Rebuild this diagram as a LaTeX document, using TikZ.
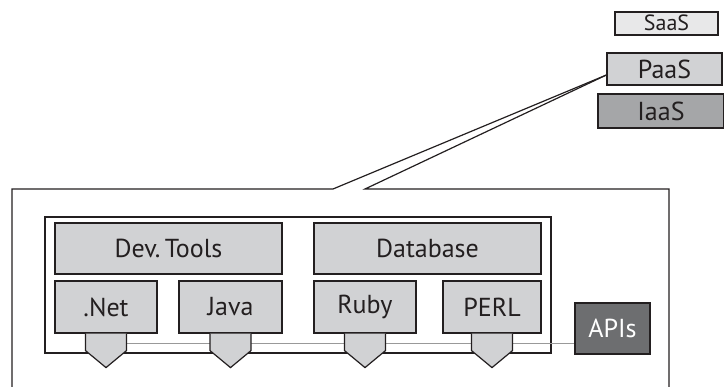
\documentclass[tikz,border=0pt]{standalone}
\usepackage{fontspec}
\setmainfont{PT Sans}
\usepackage{xcolor}
\definecolor{boxgray}{HTML}{D1D2D4}
\definecolor{saasgray}{HTML}{E8E8E9}
\definecolor{iaasgray}{HTML}{A5A6A8}
\definecolor{apigray}{HTML}{6D6E70}
\definecolor{ink}{HTML}{231F20}

\begin{document}
\begin{tikzpicture}[x=1pt,y=-1pt,
  every node/.style={font=\fontsize{26}{30}\selectfont, text=ink},
  tile/.style={draw=ink, line width=1.2pt, fill=boxgray, inner sep=0pt},
  plug/.style={draw=ink, line width=1.2pt, fill=boxgray},
  bus/.style={draw=gray!80, line width=0.8pt},
  frame/.style={draw=ink, line width=1.2pt}]
\useasboundingbox (0,0) rectangle (724,387);
% layers
\node[tile, fill=saasgray, minimum width=103pt, minimum height=23pt,
  font=\fontsize{22}{24}\selectfont, text height=15pt, text depth=0pt] (saas) at (666.5,23.5) {SaaS};
\node[tile, minimum width=115pt, minimum height=32pt] (paas) at (664.5,69) {PaaS};
\node[tile, fill=iaasgray, minimum width=126pt, minimum height=34pt] (iaas) at (661,111) {IaaS};
\coordinate (tip) at ([yshift=-6pt]paas.west);
% platform frame
\coordinate (gapl) at (333,189);
\coordinate (gapr) at (365,189);
\draw[frame] (tip) -- (gapl) -- (12,189) -- (12,387);
\draw[frame] (tip) -- (gapr) -- (669,189) -- (669,387);
\node[draw=ink, line width=1.2pt, minimum width=506pt, minimum height=136pt, inner sep=0pt] (inner) at (298,285) {};
% tools
\node[tile, minimum width=227pt, minimum height=51pt] (devtools) at (168.5,248.5) {Dev.\,Tools};
\node[tile, minimum width=227pt, minimum height=51pt] (database) at (427.5,248.5) {Database};
\node[tile, minimum width=102pt, minimum height=52pt] (net) at (106,307) {.Net};
\node[tile, minimum width=103pt, minimum height=52pt] (java) at (230.5,307) {Java};
\node[tile, minimum width=102pt, minimum height=52pt] (ruby) at (365,307) {Ruby};
\node[tile, minimum width=98pt, minimum height=52pt] (perl) at (492,307) {PERL};
\node[tile, fill=apigray, text=white, minimum width=75pt, minimum height=51pt] (apis) at (612.5,328.5) {APIs};
% bus and plugs
\draw[bus] ([yshift=-10pt]net.south) -- ([yshift=-10pt]net.south -| apis.west);
\foreach \n in {net,java,ruby,perl}
  \draw[plug] ([xshift=-20.5pt]\n.south) -- ++(0,17) -- ++(20.5,17) -- ++(20.5,-17) -- ++(0,-17);
\end{tikzpicture}
\end{document}
